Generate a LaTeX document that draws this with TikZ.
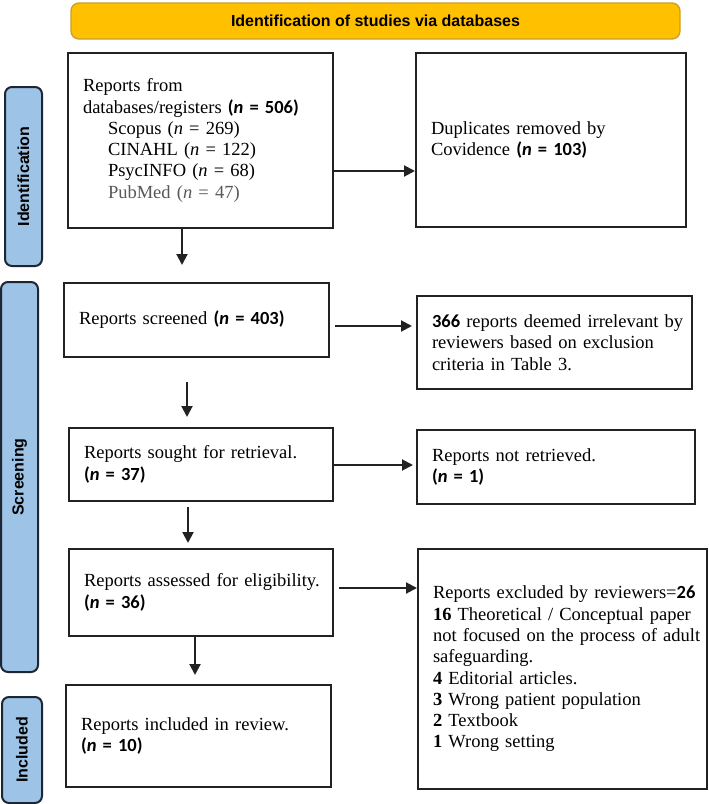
\documentclass[tikz,border=0pt]{standalone}
\usepackage{fontspec}
\setmainfont{Liberation Serif}
\newfontfamily\calfont{Carlito}
\newfontfamily\arialfont{Liberation Sans}
\usetikzlibrary{arrows.meta,calc}
\definecolor{bannerfill}{HTML}{FFC000}
\definecolor{bannerline}{HTML}{C9A227}
\definecolor{sidefill}{HTML}{9DC3E6}
\definecolor{sideline}{HTML}{1F2633}
\definecolor{boxline}{HTML}{222222}
\definecolor{greytext}{HTML}{595959}
\newcommand{\cb}[1]{{\calfont\bfseries #1}}
\begin{document}
\begin{tikzpicture}[x=1pt,y=-1pt,
  box/.style={draw=boxline,line width=2pt,fill=white,align=left,inner xsep=15pt,inner ysep=0pt,
    font=\fontsize{18.5}{21.3}\selectfont},
  arr/.style={draw=boxline,line width=2pt,-{Triangle[length=11pt,width=11pt]}},
  side/.style={draw=sideline,fill=sidefill,line width=2pt,rounded corners=7pt,rotate=90,inner sep=0pt,
    font=\arialfont\bfseries\fontsize{16}{18}\selectfont},
  banner/.style={draw=bannerline,fill=bannerfill,line width=1.4pt,rounded corners=8pt,inner sep=0pt,
    font=\arialfont\bfseries\fontsize{16}{18}\selectfont}
]
\useasboundingbox (0,0) rectangle (709,804);

\node[banner,minimum width=609pt,minimum height=36pt] (banner) at (375.5,21) {Identification of studies via databases};

\node[side,minimum width=179pt,minimum height=37pt] (identlab) at (23.5,176.5) {Identification};
\node[side,minimum width=390pt,minimum height=37pt] (screenlab) at (19.5,477) {Screening};
\node[side,minimum width=106pt,minimum height=40pt] (inclab) at (22,750) {Included};

\node[box,minimum width=265pt,minimum height=175pt,text width=235pt] (box1) at (200.5,140.5)
 {Reports from\\
  \mbox{databases/registers \cb{(\textit{n} = 506)}}\\
  \hspace*{25pt}Scopus (\textit{n} = 269)\\
  \hspace*{25pt}CINAHL (\textit{n} = 122)\\
  \hspace*{25pt}PsycINFO (\textit{n} = 68)\\
  \hspace*{25pt}{\color{greytext}PubMed (\textit{n} = 47)}};

\node[box,minimum width=270pt,minimum height=174pt,text width=240pt] (box2) at (551,140)
 {Duplicates removed by\\ Covidence \cb{(\textit{n} = 103)}};

\node[box,minimum width=265pt,minimum height=74pt,text width=235pt] (screened) at (196.5,320)
 {Reports screened \cb{(\textit{n} = 403)}};

\node[box,minimum width=275pt,minimum height=93pt,text width=245pt] (irrel) at (554.5,342.5)
 {\mbox{\cb{366} reports deemed irrelevant by}\\ reviewers based on exclusion\\ criteria in Table 3.};

\node[box,minimum width=264pt,minimum height=73pt,text width=234pt] (sought) at (201,464.5)
 {Reports sought for retrieval.\\ \cb{(\textit{n} = 37)}};

\node[box,minimum width=278pt,minimum height=74pt,text width=248pt] (notret) at (556,467)
 {Reports not retrieved.\\ \cb{(\textit{n} = 1)}};

\node[box,minimum width=264pt,minimum height=87pt,text width=234pt] (assessed) at (201,592.5)
 {\mbox{Reports assessed for eligibility.}\\ \cb{(\textit{n} = 36)}};

\node[box,minimum width=289pt,minimum height=240pt,text width=259pt] (excluded) at (562.5,669)
 {\mbox{Reports excluded by reviewers=\cb{26}}\\
  \mbox{\textbf{16} Theoretical / Conceptual paper}\\
  \mbox{not focused on the process of adult}\\
  safeguarding.\\
  \textbf{4} Editorial articles.\\
  \textbf{3} Wrong patient population\\
  \textbf{2} Textbook\\
  \textbf{1} Wrong setting};

\node[box,minimum width=265pt,minimum height=102pt,text width=235pt] (included) at (198.5,736)
 {Reports included in review.\\ \cb{(\textit{n} = 10)}};

\draw[arr] (box1.east |- 0,171) -- (box2.west |- 0,171);
\draw[arr,shorten >=17pt] (box1.south -| 182,0) -- (screened.north -| 182,0);
\draw[arr,shorten <=5pt,shorten >=4pt] (screened.east |- 0,326) -- (irrel.west |- 0,326);
\draw[arr,shorten <=24pt,shorten >=10pt] (screened.south -| 187,0) -- (sought.north -| 187,0);
\draw[arr,shorten >=3pt] (sought.east |- 0,465) -- (notret.west |- 0,465);
\draw[arr,shorten <=5pt,shorten >=5pt] (sought.south -| 188,0) -- (assessed.north -| 188,0);
\draw[arr,shorten <=5pt] (assessed.east |- 0,588) -- (excluded.west |- 0,588);
\draw[arr,shorten >=9pt] (assessed.south -| 195,0) -- (included.north -| 195,0);
\end{tikzpicture}
\end{document}
